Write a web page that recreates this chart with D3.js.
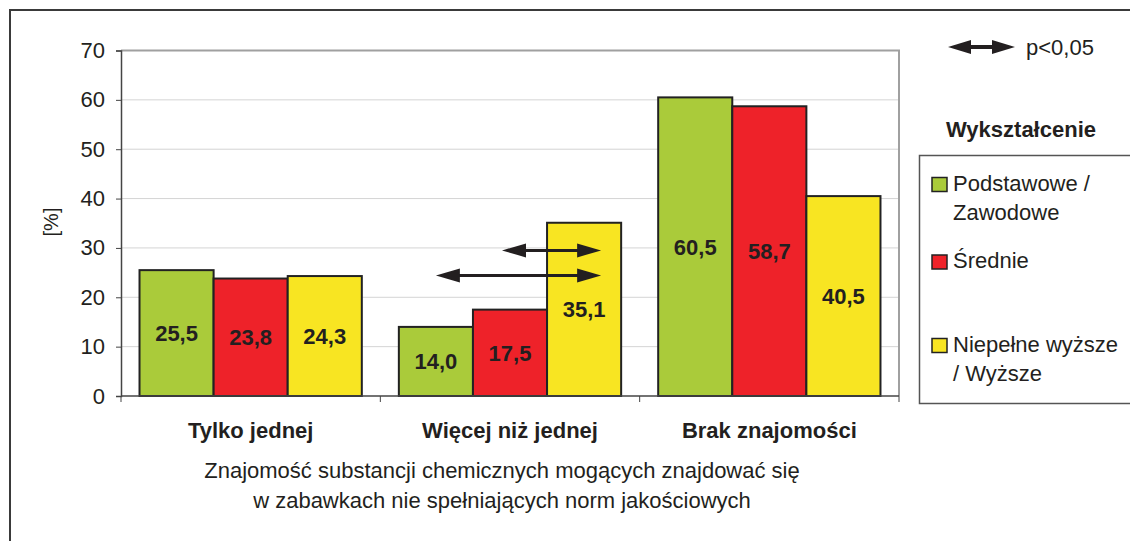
<!DOCTYPE html>
<html>
<head>
<meta charset="utf-8">
<script src="https://cdn.jsdelivr.net/npm/d3@7"></script>
<style>
  body { margin: 0; background: #fff; }
  svg { display: block; font-family: "Liberation Sans", Arial, sans-serif; }
</style>
</head>
<body>
<svg id="chart" width="1130" height="541"></svg>
<script>
/* data */
const categories = ["Tylko jednej", "Więcej niż jednej", "Brak znajomości"];
const seriesNames = [["Podstawowe /", "Zawodowe"], ["Średnie"], ["Niepełne wyższe", "/ Wyższe"]];
const seriesColors = ["#aacb3a", "#ee2229", "#f8e522"];
const podstawowe = [25.5, 14.0, 60.5];
const srednie    = [23.8, 17.5, 58.7];
const wyzsze     = [24.3, 35.1, 40.5];
const yTicks = [0, 10, 20, 30, 40, 50, 60, 70];
// significance arrows: category, from series, to series, level (%)
const arrows = [
  {cat: "Więcej niż jednej", from: 1, to: 2, level: 29.5},
  {cat: "Więcej niż jednej", from: 0, to: 2, level: 24.4}
];

const series = [podstawowe, srednie, wyzsze];
const FS = 22;

/* dimensions */
const margin = {top: 50.5, left: 121, right: 231, bottom: 145};
const width  = 1130 - margin.left - margin.right,
      height = 541 - margin.top - margin.bottom;

const root = d3.select("#chart");

// outer frame
root.append("path")
  .attr("d", "M10,541 V10 H1130")
  .attr("fill", "none")
  .attr("stroke", "#3a3a3a")
  .attr("stroke-width", 2);

const svg = root.append("g")
  .attr("transform", `translate(${margin.left},${margin.top})`);

const x0 = d3.scaleBand().domain(categories).range([0, width]).paddingInner(0.1428).paddingOuter(0.0714);
const xSub = d3.scaleBand().domain([0, 1, 2]).range([0, x0.bandwidth()]);
const y = d3.scaleLinear().domain([0, 70]).range([height, 0]);

/* grid */
svg.append("g")
  .selectAll("line")
  .data(yTicks.filter(d => d > 0 && d < 70))
  .join("line")
  .attr("x1", 0).attr("x2", width)
  .attr("y1", d => y(d)).attr("y2", d => y(d))
  .attr("stroke", "#d4d4d4")
  .attr("stroke-width", 1);

// plot frame (top + right)
svg.append("path")
  .attr("d", `M0,${y(70)} H${width} V${height}`)
  .attr("fill", "none")
  .attr("stroke", "#a0a0a0")
  .attr("stroke-width", 2);

/* bars */
const groups = svg.append("g")
  .selectAll("g")
  .data(categories)
  .join("g")
  .attr("transform", d => `translate(${x0(d)},0)`);

groups.selectAll("rect")
  .data((c, ci) => series.map((s, si) => ({si, v: s[ci]})))
  .join("rect")
  .attr("x", d => xSub(d.si))
  .attr("width", xSub.bandwidth())
  .attr("y", d => y(d.v))
  .attr("height", d => y(0) - y(d.v))
  .attr("fill", d => seriesColors[d.si])
  .attr("stroke", "#222")
  .attr("stroke-width", 2);

groups.selectAll("text.val")
  .data((c, ci) => series.map((s, si) => ({si, v: s[ci]})))
  .join("text")
  .attr("class", "val")
  .attr("x", d => xSub(d.si) + xSub.bandwidth() / 2)
  .attr("y", d => (y(d.v) + y(0)) / 2)
  .attr("dy", "0.36em")
  .attr("text-anchor", "middle")
  .attr("font-size", FS)
  .attr("font-weight", "bold")
  .attr("fill", "#231f20")
  .text(d => d.v.toFixed(1).replace(".", ","));

/* axes */
const yAxis = d3.axisLeft(y).tickValues(yTicks).tickSize(5).tickPadding(11);
svg.append("g")
  .attr("class", "y-axis")
  .call(yAxis)
  .call(g => g.select(".domain").attr("stroke", "#444").attr("stroke-width", 1.5))
  .call(g => g.selectAll(".tick line").attr("stroke", "#444"))
  .call(g => g.selectAll("text").attr("font-size", FS).attr("fill", "#231f20").attr("font-family", "Liberation Sans, Arial, sans-serif"));

svg.append("g")
  .attr("transform", `translate(0,${height})`)
  .selectAll("line")
  .data([0, ...categories.map(c => x0(c) + x0.bandwidth() + x0.step() * x0.paddingInner() / 2)])
  .join("line")
  .attr("x1", d => d).attr("x2", d => d)
  .attr("y1", 0).attr("y2", 6)
  .attr("stroke", "#444");

svg.append("line")
  .attr("x1", 0).attr("x2", width)
  .attr("y1", height).attr("y2", height)
  .attr("stroke", "#444").attr("stroke-width", 1.5);

svg.append("g")
  .selectAll("text")
  .data(categories)
  .join("text")
  .attr("x", d => x0(d) + x0.bandwidth() / 2)
  .attr("y", height + 42)
  .attr("text-anchor", "middle")
  .attr("font-size", FS)
  .attr("font-weight", "bold")
  .attr("fill", "#231f20")
  .text(d => d);

// y label
svg.append("text")
  .attr("transform", "rotate(-90)")
  .attr("x", -(y(0) - 174))
  .attr("y", -63)
  .attr("text-anchor", "middle")
  .attr("font-size", 20)
  .attr("fill", "#231f20")
  .text("[%]");

// subtitle
const subtitle = ["Znajomość substancji chemicznych mogących znajdować się",
                  "w zabawkach nie spełniających norm jakościowych"];
svg.append("g")
  .selectAll("text")
  .data(subtitle)
  .join("text")
  .attr("x", width / 2 - 8)
  .attr("y", (d, i) => height + 82 + i * 30)
  .attr("text-anchor", "middle")
  .attr("font-size", FS)
  .attr("fill", "#231f20")
  .text(d => d);

/* arrows */
function doubleArrow(g, xa, xb, yy, head, half, thick) {
  g.append("line")
    .attr("x1", xa + head - 2).attr("x2", xb - head + 2)
    .attr("y1", yy).attr("y2", yy)
    .attr("stroke", "#231f20").attr("stroke-width", thick);
  g.append("path")
    .attr("d", `M${xa},${yy} L${xa + head},${yy - half} L${xa + head},${yy + half} Z`)
    .attr("fill", "#231f20");
  g.append("path")
    .attr("d", `M${xb},${yy} L${xb - head},${yy - half} L${xb - head},${yy + half} Z`)
    .attr("fill", "#231f20");
}

const arrowG = svg.append("g");
arrows.forEach(a => {
  const xa = x0(a.cat) + xSub(a.from) + xSub.bandwidth() / 2 - (a.from === 1 ? 8 : 0);
  const xb = x0(a.cat) + xSub(a.to) + xSub.bandwidth() / 2 + 17;
  doubleArrow(arrowG, xa, xb, y(a.level), 24, 7, 3);
});

/* legend */
const legend = root.append("g");
doubleArrow(legend, 948, 1015, 47, 23, 7, 4);
legend.append("text")
  .attr("x", 1026).attr("y", 55)
  .attr("font-size", FS)
  .attr("fill", "#231f20")
  .text("p<0,05");

legend.append("text")
  .attr("x", 1021).attr("y", 137)
  .attr("text-anchor", "middle")
  .attr("font-size", FS)
  .attr("font-weight", "bold")
  .attr("fill", "#231f20")
  .text("Wykształcenie");

legend.append("rect")
  .attr("x", 919.5).attr("y", 155.5)
  .attr("width", 230).attr("height", 248)
  .attr("fill", "#fff")
  .attr("stroke", "#555")
  .attr("stroke-width", 1.5);

const itemY = [184.5, 262, 345.5];
const items = legend.selectAll("g.item")
  .data(seriesNames)
  .join("g")
  .attr("class", "item")
  .attr("transform", (d, i) => `translate(932,${itemY[i]})`);

items.append("rect")
  .attr("x", 0).attr("y", -7)
  .attr("width", 15).attr("height", 14)
  .attr("fill", (d, i) => seriesColors[i])
  .attr("stroke", "#222")
  .attr("stroke-width", 1.5);

items.selectAll("text")
  .data(d => d)
  .join("text")
  .attr("x", 21)
  .attr("y", (d, i) => 6 + i * 29)
  .attr("font-size", FS)
  .attr("fill", "#231f20")
  .text(d => d);
</script>
</body>
</html>
